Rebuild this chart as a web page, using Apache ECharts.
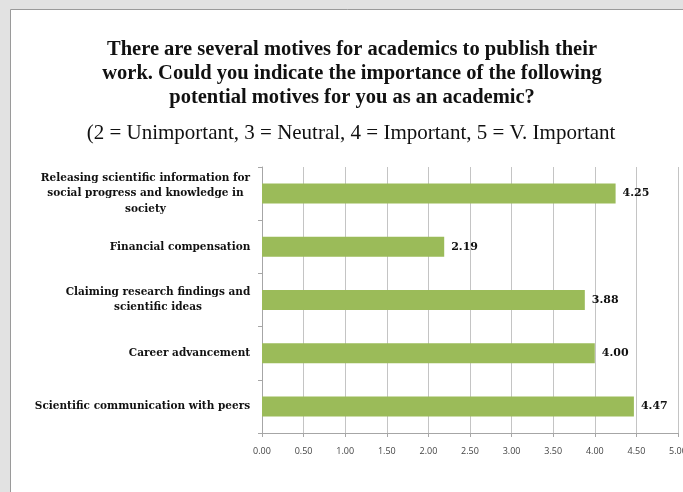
<!DOCTYPE html>
<html>
<head>
<meta charset="utf-8">
<script src="https://cdn.jsdelivr.net/npm/echarts@6/dist/echarts.min.js"></script>
<style>
html,body{margin:0;padding:0;background:#fff;}
#c{width:683px;height:492px;}
</style>
</head>
<body>
<div id="c"></div>
<script>
const titleText = "There are several motives for academics to publish their\nwork. Could you indicate the importance of the following\npotential motives for you as an academic?";
const subtitleText = "(2 = Unimportant, 3 = Neutral, 4 = Important, 5 = V. Important";
const categories = [
  "Releasing scientific information for\nsocial progress and knowledge in\nsociety",
  "Financial compensation",
  "Claiming research findings and\nscientific ideas",
  "Career advancement",
  "Scientific communication with peers"
];
const values = [4.25, 2.19, 3.88, 4.00, 4.47];
const axisMin = 0, axisMax = 5, axisStep = 0.5;

const catFont = {family: 'DejaVu Serif', weight: 'bold', size: 10.5, lineHeight: 15.5};
const ctx = document.createElement('canvas').getContext('2d');
ctx.font = catFont.weight + ' ' + catFont.size + 'px "' + catFont.family + '"';
const rich = {};
categories.forEach((c, i) => {
  const w = Math.max.apply(null, c.split('\n').map(l => ctx.measureText(l).width));
  rich['r' + i] = {width: Math.ceil(w) + 1, align: 'center', fontFamily: catFont.family,
    fontWeight: catFont.weight, fontSize: catFont.size, lineHeight: catFont.lineHeight, color: '#111'};
});

const chart = echarts.init(document.getElementById('c'), null, {renderer: 'canvas'});
chart.setOption({
  animation: false,
  backgroundColor: '#e2e2e2',
  graphic: [
    {type: 'rect', z: -10, shape: {x: 10.5, y: 9.5, width: 700, height: 500},
     style: {fill: '#ffffff', stroke: '#9a9a9a', lineWidth: 1}}
  ],
  title: [
    {text: titleText, left: 347, top: 33, textAlign: 'center',
     textStyle: {fontFamily: 'Liberation Serif', fontWeight: 'bold', fontSize: 20.5, lineHeight: 24, color: '#111', align: 'center'}},
    {text: subtitleText, left: 346, top: 116, textAlign: 'center',
     textStyle: {fontFamily: 'Liberation Serif', fontWeight: 'normal', fontSize: 21, lineHeight: 24, color: '#111'}}
  ],
  grid: {left: 262, right: 5, top: 167, bottom: 59, containLabel: false, outerBoundsMode: 'none'},
  xAxis: {
    type: 'value', min: axisMin, max: axisMax, interval: axisStep,
    axisLine: {show: true, lineStyle: {color: '#a6a6a6'}},
    axisTick: {show: true, length: 4, lineStyle: {color: '#a6a6a6'}},
    axisLabel: {formatter: v => v.toFixed(2), fontFamily: 'Open Sans', fontSize: 9, color: '#444', margin: 14,
      showMaxLabel: true, hideOverlap: false},
    splitLine: {show: true, lineStyle: {color: '#c4c4c4', width: 1}}
  },
  yAxis: {
    type: 'category', data: categories, inverse: true,
    axisLine: {show: true, lineStyle: {color: '#a6a6a6'}},
    axisTick: {show: true, length: 4, lineStyle: {color: '#a6a6a6'}},
    axisLabel: {
      margin: 11, align: 'right',
      formatter: (v, i) => v.split('\n').map(l => '{r' + i + '|' + l + '}').join('\n'),
      rich: rich
    }
  },
  series: [{
    type: 'bar', data: values, barWidth: 20,
    itemStyle: {color: '#9bbb59'},
    label: {show: true, position: 'right', distance: 7, formatter: p => p.value.toFixed(2),
      fontFamily: 'DejaVu Serif', fontWeight: 'bold', fontSize: 11, color: '#111'}
  }]
});
</script>
</body>
</html>
